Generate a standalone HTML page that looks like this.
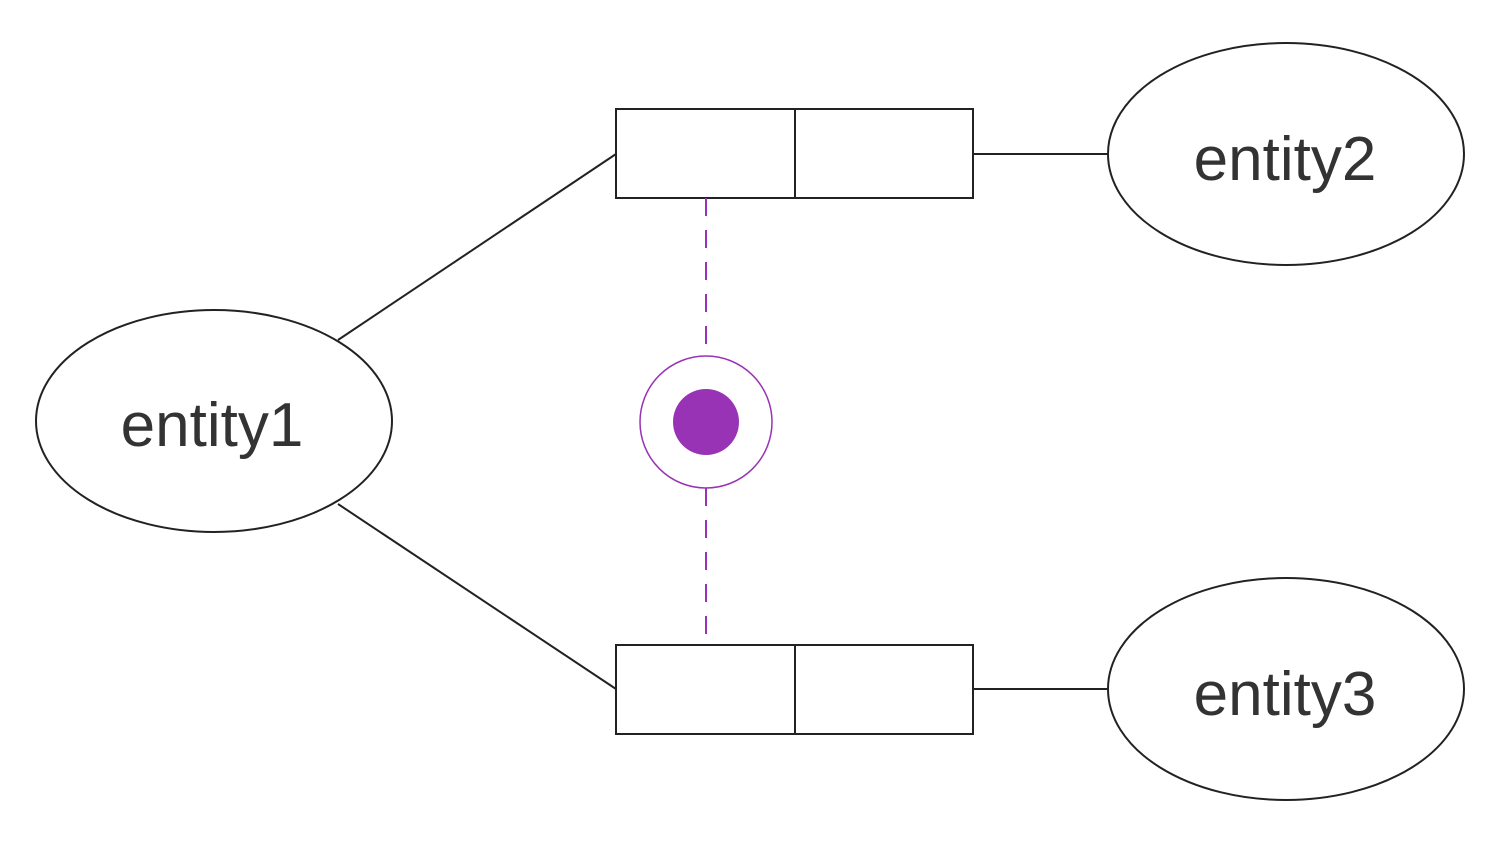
<!DOCTYPE html>
<html><head><style>html,body{margin:0;padding:0;background:#fff;}</style></head>
<body>
<svg width="1500" height="843" viewBox="0 0 1500 843" xmlns="http://www.w3.org/2000/svg">
<g fill="none" stroke="#222" stroke-width="2">
<ellipse cx="214" cy="421" rx="178" ry="111" fill="#fff"/>
<ellipse cx="1286" cy="154" rx="178" ry="111" fill="#fff"/>
<ellipse cx="1286" cy="689" rx="178" ry="111" fill="#fff"/>
<rect x="616" y="109" width="357" height="89"/>
<line x1="795" y1="109" x2="795" y2="198"/>
<rect x="616" y="645" width="357" height="89"/>
<line x1="795" y1="645" x2="795" y2="734"/>
<line x1="338" y1="340" x2="616" y2="154"/>
<line x1="338" y1="504" x2="616" y2="689"/>
<line x1="973" y1="154" x2="1107" y2="154"/>
<line x1="973" y1="689" x2="1107" y2="689"/>
</g>
<g stroke="#9933b5" stroke-width="2" fill="none">
<line x1="706" y1="198" x2="706" y2="356" stroke-dasharray="18,14"/>
<line x1="706" y1="488" x2="706" y2="645" stroke-dasharray="18,14"/>
<circle cx="706" cy="422" r="66" stroke-width="1.5"/>
</g>
<circle cx="706" cy="422" r="33" fill="#9933b5"/>
<g font-family="'Liberation Sans', sans-serif" font-size="62" fill="#333" text-anchor="middle">
<text x="212" y="446">entity1</text>
<text x="1285" y="180">entity2</text>
<text x="1285" y="715">entity3</text>
</g>
</svg>
</body></html>
